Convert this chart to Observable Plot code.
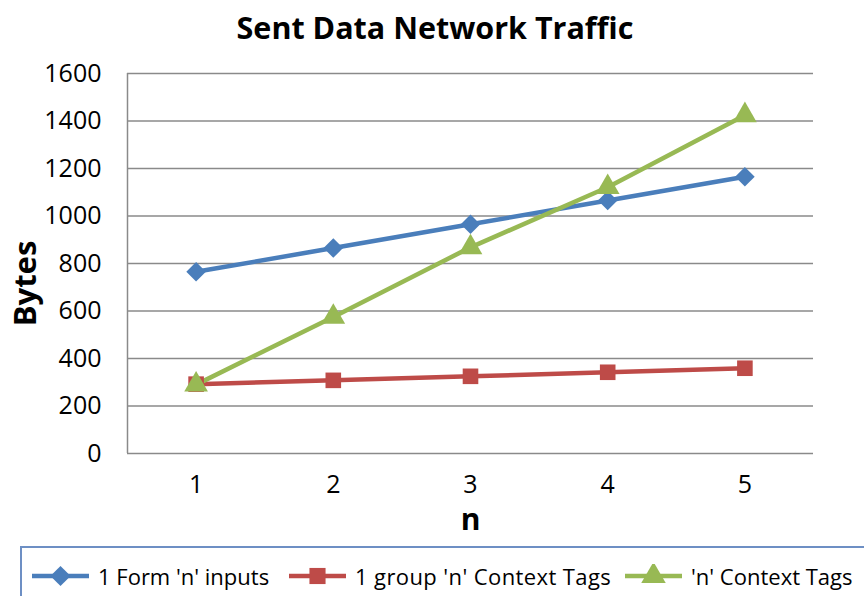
<!DOCTYPE html>
<html>
<head>
<meta charset="utf-8">
<script src="https://cdn.jsdelivr.net/npm/d3@7"></script>
<script src="https://cdn.jsdelivr.net/npm/@observablehq/plot@0.6"></script>
<style>
  html, body { margin: 0; padding: 0; background: #fff; }
  body { width: 864px; height: 596px; position: relative; overflow: hidden; font-family: "Open Sans", Lato, sans-serif; }
  #title { height: 55px; line-height: 55px; text-align: center; font-weight: bold; font-size: 30.5px; color: #000; padding-left: 6px; box-sizing: border-box; white-space: nowrap; }
  #chart { position: absolute; left: 0; top: 55px; }
  #legend { position: absolute; left: 20px; top: 546px; width: 870px; height: 70px; border: 2px solid #6d8fc4; box-sizing: border-box; font-size: 22px; color: #000; }
  .item { position: absolute; top: 13px; display: flex; align-items: center; white-space: nowrap; }
  .item svg { margin-right: 9px; }
  .item:nth-child(1) { left: 10px; }
  .item:nth-child(2) { left: 267px; }
  .item:nth-child(3) { left: 603px; }
  .item:nth-child(2) span { letter-spacing: 0.4px; }
</style>
</head>
<body>
<div id="title">Sent Data Network Traffic</div>
<div id="chart"></div>
<div id="legend"></div>
<script>
const categories = [1, 2, 3, 4, 5];
const seriesNames = ["1 Form 'n' inputs", "1 group 'n' Context Tags", "'n' Context Tags"];
const formInputs = [765, 865, 965, 1065, 1165];
const groupTags = [292, 308, 325, 342, 359];
const contextTags = [290, 575, 868, 1121, 1424];
const seriesColors = ["#4A7EBB", "#BE4B48", "#98B954"];
const seriesSymbols = ["diamond2", "square", "triangle"];
const yTicks = [0, 200, 400, 600, 800, 1000, 1200, 1400, 1600];
const xLabel = "n";
const yLabel = "Bytes";

const allSeries = [formInputs, groupTags, contextTags];
const rows = [];
allSeries.forEach((vals, s) => vals.forEach((v, i) => rows.push({series: seriesNames[s], n: categories[i], value: v})));

const chart = Plot.plot({
  width: 864,
  height: 490,
  marginLeft: 127,
  marginRight: 51,
  marginTop: 18,
  marginBottom: 92,
  style: {fontFamily: "'Open Sans', Lato, sans-serif", color: "#000", background: "transparent"},
  x: {type: "linear", domain: [categories[0] - 0.5, categories[categories.length - 1] + 0.5]},
  y: {domain: [yTicks[0], yTicks[yTicks.length - 1]]},
  color: {domain: seriesNames, range: seriesColors},
  symbol: {domain: seriesNames, range: seriesSymbols},
  marks: [
    Plot.ruleY(yTicks, {stroke: "#8a8a8a", strokeWidth: 1.5}),
    Plot.ruleX([categories[0] - 0.5], {stroke: "#8a8a8a", strokeWidth: 1.5}),
    Plot.axisY({ticks: yTicks, tickSize: 0, tickPadding: 26, fontSize: 25, label: null, tickFormat: d => String(d)}),
    Plot.axisX({ticks: categories, tickSize: 0, tickPadding: 22, fontSize: 25, label: null, tickFormat: d => String(d)}),
    Plot.line(rows, {x: "n", y: "value", z: "series", stroke: "series", strokeWidth: 4.5}),
    Plot.dot(rows, {x: "n", y: "value", fill: "series", symbol: "series", r: 8.8, stroke: "none"}),
    Plot.text([yLabel], {frameAnchor: "left", textAnchor: "middle", lineAnchor: "middle", dx: -101, dy: 20, rotate: -90, fontSize: 31, fontWeight: "bold", fill: "#000"}),
    Plot.text([xLabel], {frameAnchor: "bottom", textAnchor: "middle", lineAnchor: "middle", dy: 67, fontSize: 30, fontWeight: "bold", fill: "#000"})
  ]
});
document.getElementById("chart").appendChild(chart);

const legend = d3.select("#legend");
seriesNames.forEach((name, i) => {
  const item = legend.append("div").attr("class", "item");
  const svg = item.append("svg").attr("width", 57).attr("height", 24);
  svg.append("line").attr("x1", 0).attr("x2", 57).attr("y1", 12).attr("y2", 12)
    .attr("stroke", seriesColors[i]).attr("stroke-width", 4.5);
  const sym = [d3.symbolDiamond2, d3.symbolSquare, d3.symbolTriangle][i];
  svg.append("path").attr("transform", "translate(28.5,12)")
    .attr("d", d3.symbol(sym, 260)()).attr("fill", seriesColors[i]);
  item.append("span").text(name);
});
</script>
</body>
</html>
